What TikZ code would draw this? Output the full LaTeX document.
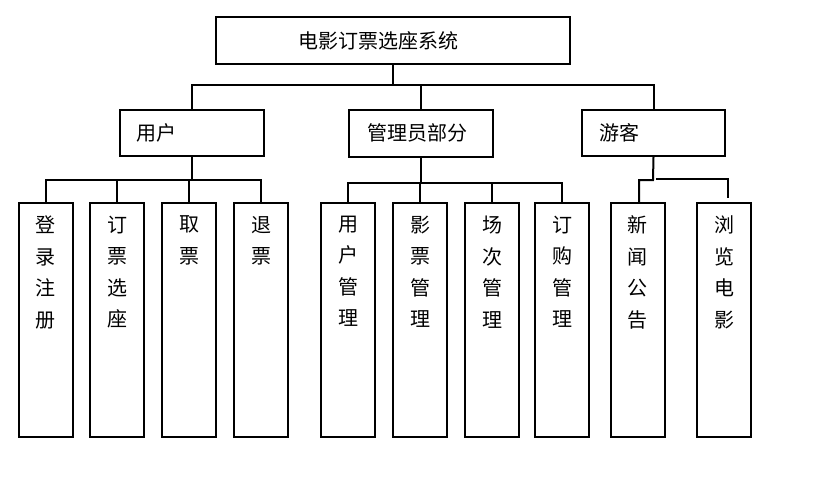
\documentclass[tikz,border=0pt]{standalone}
\usepackage{fontspec}
\setmainfont{Noto Sans CJK SC}
\begin{document}
\begin{tikzpicture}[x=1pt,y=-1pt,line width=2pt,
  box/.style={draw,line width=2pt,inner sep=0pt},
  lvtwo/.style={box,minimum width=144pt,minimum height=46pt},
  leaf/.style={box,minimum width=54pt,minimum height=234pt},
  lbl/.style={font=\fontsize{20}{20}\selectfont,inner sep=0pt,anchor=west},
  vlbl/.style={font=\fontsize{20}{31.5}\selectfont,inner sep=0pt,align=center,anchor=north}]
\fill[white] (0,0) rectangle (827,484);
\useasboundingbox (0,0) rectangle (827,484);
% top
\node[box,minimum width=354pt,minimum height=47pt] (top) at (393,40.5) {};
\node[lbl] (toptxt) at (297,41) {电影订票选座系统};
% level two
\node[lvtwo] (u) at (192,133) {};
\node[lbl] (utxt) at (135,133) {用户};
\node[lvtwo,minimum height=47pt] (m) at (421,133.5) {};
\node[lbl] (mtxt) at (366,133) {管理员部分};
\node[lvtwo,minimum width=143pt] (v) at (653.5,133) {};
\node[lbl] (vtxt) at (598,133) {游客};
% leaves
\foreach \n/\x/\t in {a1/45.5/{登\\录\\注\\册},a2/117/{订\\票\\选\\座},a3/189/{取\\票},a4/261/{退\\票},
  b1/348/{用\\户\\管\\理},b2/420/{影\\票\\管\\理},b3/492/{场\\次\\管\\理},b4/562/{订\\购\\管\\理},
  c1/637.5/{新\\闻\\公\\告},c2/724/{浏\\览\\电\\影}}{
  \node[leaf] (\n) at (\x,320) {};
  \node[vlbl] (\n t) at (\x,215) {\t};
}
% connectors
\coordinate (tb) at (393,85);
\draw (top.south) -- (tb);
\draw (u.north) |- (tb) -| (v.north);
\draw (m.north) -- (m.north |- tb);
\coordinate (ub) at (192,180);
\draw (u.south) -- (ub);
\draw (a1.north) |- (ub) -| (a4.north);
\draw (a2.north) -- (a2.north |- ub);
\draw (a3.north) -- (a3.north |- ub);
\coordinate (mb) at (421,183);
\draw (m.south) -- (mb);
\draw (b1.north) |- (mb) -| (b4.north);
\draw (b2.north) -- (b2.north |- mb);
\draw (b3.north) -- (b3.north |- mb);
\coordinate (vb) at (653,180);
\coordinate (vl) at (639,180);
\draw (v.south) -- (vb) -- (vl) -- (vl |- c1.north);
\coordinate (vr) at (656,179);
\coordinate (vend) at (728,198);
\draw (vr) -| (vend);
\end{tikzpicture}
\end{document}
